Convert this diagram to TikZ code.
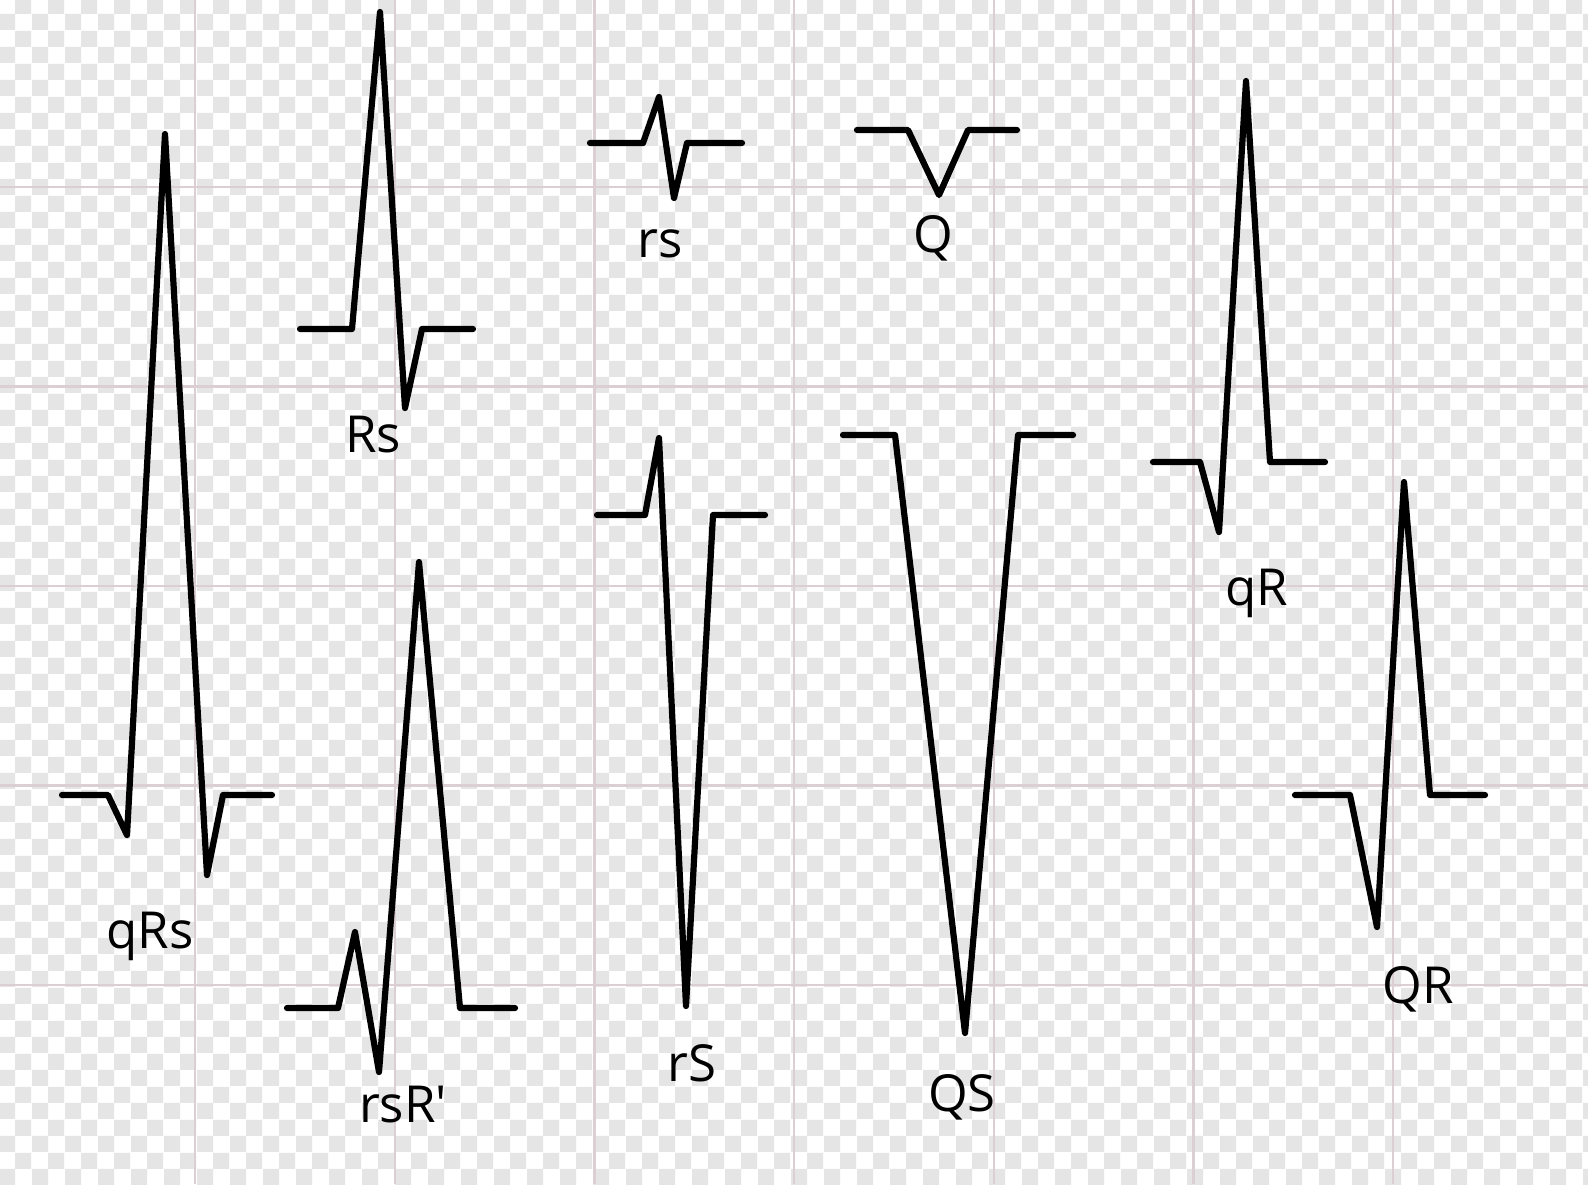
\documentclass[tikz,border=0pt]{standalone}
\usepackage{fontspec}
\setmainfont{Open Sans}
\usepackage{xcolor}
\usetikzlibrary{patterns.meta}

\definecolor{gridpink}{HTML}{DCCFD4}

% light checked paper
\pgfdeclarepattern{
  name=bgchecks,
  type=uncolored,
  bottom left={\pgfpoint{0pt}{0pt}},
  top right={\pgfpoint{16.5pt}{16.5pt}},
  tile size={\pgfpoint{16.5pt}{16.5pt}},
  code={
    \pgfpathrectangle{\pgfpointorigin}{\pgfpoint{8.25pt}{8.25pt}}
    \pgfpathrectangle{\pgfpoint{8.25pt}{8.25pt}}{\pgfpoint{8.25pt}{8.25pt}}
    \pgfusepath{fill}
  }
}

% straight prime, not a curly quote
\newcommand{\wprime}{\XeTeXglyph\XeTeXcharglyph"27\relax}

\tikzset{
  wave/.style={line width=3.1pt, line join=round, line cap=round},
  gridline/.style={draw=gridpink, line width=1.1pt},
  lbl/.style={anchor=base, font=\fontsize{25.5}{30}\selectfont}
}

\begin{document}
\begin{tikzpicture}[x=0.5pt, y=-0.5pt]
% Paper
\useasboundingbox (0,0) rectangle (1588,1184);
\fill[white] (0,0) rectangle (1588,1184);
\fill[pattern=bgchecks, pattern color=black!10] (0,0) rectangle (1588,1184);

% Grid
\foreach \gx in {0,...,6}
  \draw[gridline] ({195+199.7*\gx},0) -- ({195+199.7*\gx},1184);
\foreach \gy in {0,...,4}
  \draw[gridline] (0,{187+199.5*\gy}) -- (1588,{187+199.5*\gy});

% qRs
\draw[wave] (62,795) -- (108,795) -- (127,835) -- (165,134) -- (207,875) -- (223,795) -- (272,795);
\node[lbl] (lqRs) at (150,948) {qRs};

% Rs
\draw[wave] (300,329) -- (352,329) -- (380,12) -- (405,408) -- (422,329) -- (473,329);
\node[lbl] (lRs) at (373,452) {Rs};

% rsR'
\draw[wave] (287,1008) -- (338,1008) -- (355,932) -- (379,1072) -- (419,562) -- (460,1008) -- (515,1008);
\node[lbl] (lrsRp) at (403,1122) {rsR\wprime};

% rs
\draw[wave] (590,143) -- (643,143) -- (659,97) -- (674,198) -- (687,143) -- (742,143);
\node[lbl] (lrs) at (660,257) {rs};

% rS
\draw[wave] (597,515) -- (645,515) -- (659,438) -- (686,1006) -- (713,515) -- (765,515);
\node[lbl] (lrS) at (692,1081) {rS};

% Q
\draw[wave] (857,130) -- (908,130) -- (939,195) -- (968,130) -- (1017,130);
\node[lbl] (lQ) at (933,252) {Q};

% QS
\draw[wave] (843,435) -- (895,435) -- (965,1033) -- (1018,435) -- (1073,435);
\node[lbl] (lQS) at (962,1111) {QS};

% qR
\draw[wave] (1153,462) -- (1200,462) -- (1219,532) -- (1246,81) -- (1270,462) -- (1325,462);
\node[lbl] (lqR) at (1257,605) {qR};

% QR
\draw[wave] (1295,795) -- (1350,795) -- (1377,927) -- (1404,482) -- (1430,795) -- (1485,795);
\node[lbl] (lQR) at (1418,1003) {QR};

\end{tikzpicture}
\end{document}
